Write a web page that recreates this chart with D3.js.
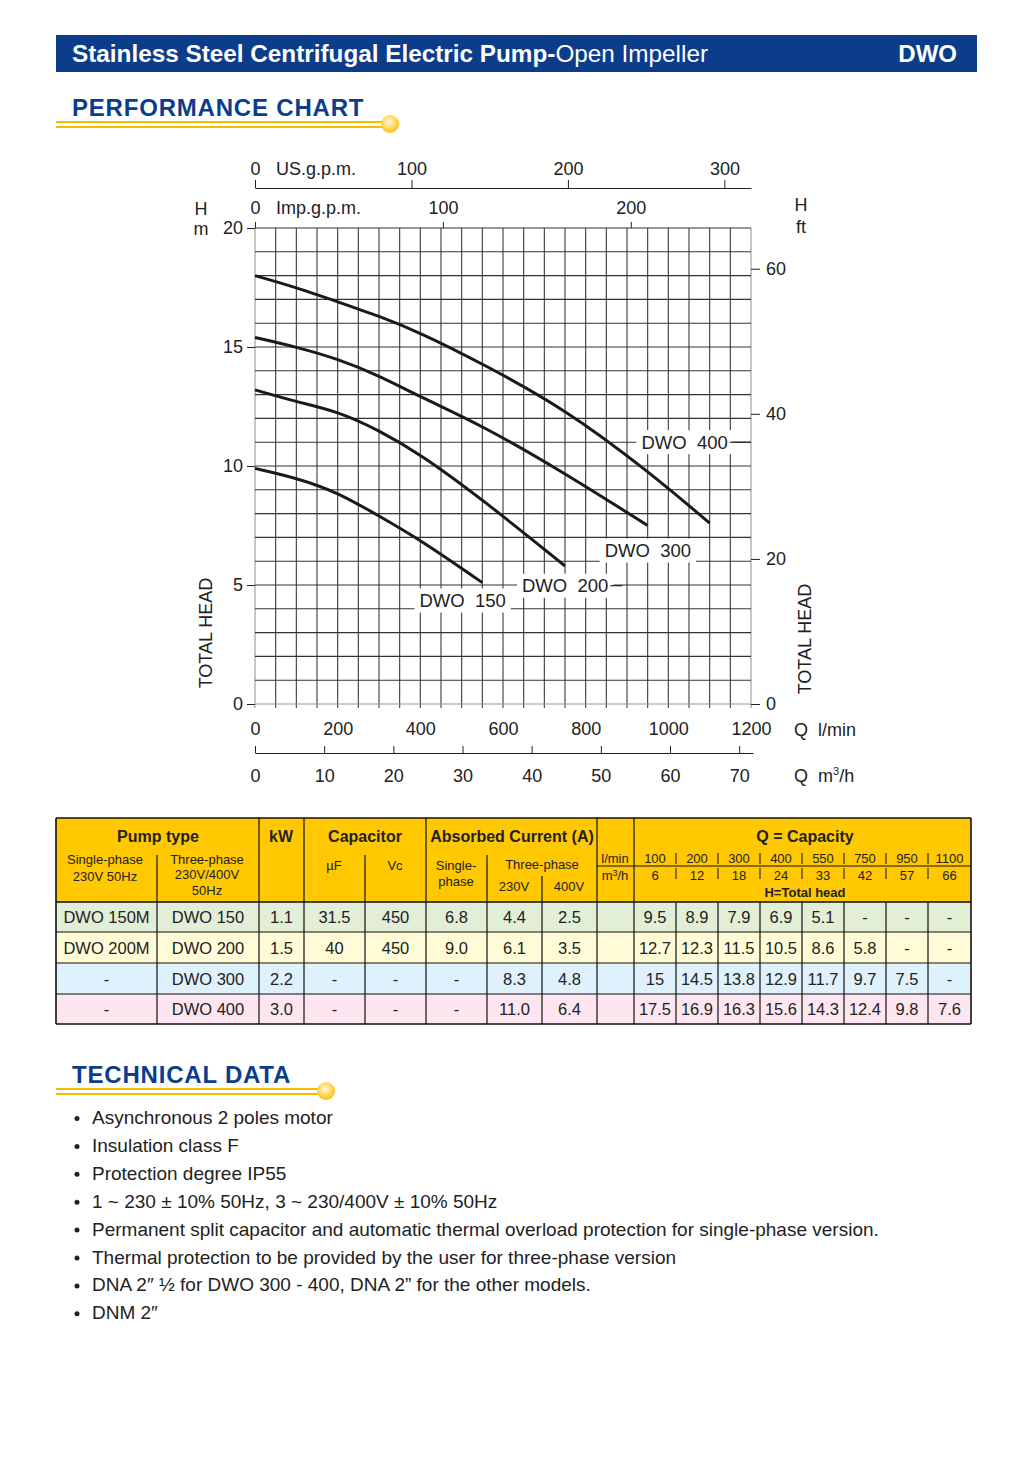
<!DOCTYPE html>
<html>
<head>
<meta charset="utf-8">
<script src="https://cdn.jsdelivr.net/npm/d3@7"></script>
<style>
  body { margin: 0; background: #fff; }
  svg { display: block; font-family: "Liberation Sans", Arial, sans-serif; }
</style>
</head>
<body>
<svg id="page" width="1036" height="1462"></svg>
<script>
// ---- data read from the sheet ----
var models      = ["DWO 150", "DWO 200", "DWO 300", "DWO 400"];
var singleTypes = ["DWO 150M", "DWO 200M", "-", "-"];
var kW          = ["1.1", "1.5", "2.2", "3.0"];
var capUF       = ["31.5", "40", "-", "-"];
var capVc       = ["450", "450", "-", "-"];
var ampSingle   = ["6.8", "9.0", "-", "-"];
var amp230      = ["4.4", "6.1", "8.3", "11.0"];
var amp400      = ["2.5", "3.5", "4.8", "6.4"];

var capLmin = [100, 200, 300, 400, 550, 750, 950, 1100];
var capM3h  = [6, 12, 18, 24, 33, 42, 57, 66];
var heads = [
  [9.5, 8.9, 7.9, 6.9, 5.1, null, null, null],
  [12.7, 12.3, 11.5, 10.5, 8.6, 5.8, null, null],
  [15, 14.5, 13.8, 12.9, 11.7, 9.7, 7.5, null],
  [17.5, 16.9, 16.3, 15.6, 14.3, 12.4, 9.8, 7.6]
];
var shutoffHead = [9.9, 13.2, 15.4, 18.0];   // head at Q = 0

var ticksLmin = [0, 200, 400, 600, 800, 1000, 1200];
var ticksM3h  = [0, 10, 20, 30, 40, 50, 60, 70];
var ticksUs   = [0, 100, 200, 300];
var ticksImp  = [0, 100, 200];
var ticksM    = [0, 5, 10, 15, 20];
var ticksFt   = [0, 20, 40, 60];

var techData = [
  "Asynchronous 2 poles motor",
  "Insulation class F",
  "Protection degree IP55",
  "1 ~ 230 \u00b1 10% 50Hz, 3 ~ 230/400V \u00b1 10% 50Hz",
  "Permanent split capacitor and automatic thermal overload protection for single-phase version.",
  "Thermal protection to be provided by the user for three-phase version",
  "DNA 2\u2033 \u00bd for DWO 300 - 400, DNA 2\u201d for the other models.",
  "DNM 2\u2033"
];

var NAVY = "#0b3d8b", YELLOW = "#ffc800", INK = "#222";

var svg = d3.select("#page");

// ---- header bar ----
svg.append("rect").attr("x", 56).attr("y", 35).attr("width", 921).attr("height", 37).attr("fill", NAVY);
var title = svg.append("text").attr("x", 72).attr("y", 62).attr("fill", "#fff").style("font-size", "24.3px");
title.append("tspan").attr("font-weight", "bold").text("Stainless Steel Centrifugal Electric Pump-");
title.append("tspan").text("Open Impeller");
svg.append("text").attr("x", 957).attr("y", 62).attr("text-anchor", "end").attr("fill", "#fff")
  .attr("font-weight", "bold").style("font-size", "24px").text("DWO");

// gradient for the little ball at the end of section rules
var grad = svg.append("defs").append("radialGradient").attr("id", "ball").attr("cx", "45%").attr("cy", "40%").attr("r", "60%");
grad.append("stop").attr("offset", "0%").attr("stop-color", "#fffbe8");
grad.append("stop").attr("offset", "100%").attr("stop-color", "#ffbf00");

function sectionTitle(label, y, lineEnd) {
  svg.append("text").attr("x", 72).attr("y", y).attr("fill", NAVY).attr("font-weight", "bold")
    .style("font-size", "24px").style("letter-spacing", "0.8px").text(label);
  [y + 6, y + 11].forEach(function(ly) {
    svg.append("line").attr("x1", 56).attr("x2", lineEnd).attr("y1", ly).attr("y2", ly)
      .attr("stroke", "#f5bd00").attr("stroke-width", 2.2);
  });
  svg.append("circle").attr("cx", lineEnd + 5).attr("cy", y + 8).attr("r", 9).attr("fill", "url(#ball)");
}
sectionTitle("PERFORMANCE CHART", 116, 385);

// ---- chart ----
var x    = d3.scaleLinear().domain([0, 1200]).range([255, 751]);
var y    = d3.scaleLinear().domain([0, 20]).range([704, 228]);
var yFt  = d3.scaleLinear().domain([0, 20 * 3.28084]).range([704, 228]);
var xImp = d3.scaleLinear().domain([0, 1200 / 4.54609]).range([255, 751]);
var xUs  = d3.scaleLinear().domain([0, 1200 / 3.78541]).range([255, 751]);
var xM3  = d3.scaleLinear().domain([0, 72]).range([255, 753]);

var FS = "18px";
var chart = svg.append("g").style("font-size", FS);

// grid
chart.append("g").selectAll("line").data(d3.range(0, 1201, 50)).join("line")
  .attr("x1", x).attr("x2", x).attr("y1", y(20)).attr("y2", y(0) + 4)
  .attr("stroke", function(d) { return d === 0 || d === 1200 ? "#999" : "#3a3a3a"; }).attr("stroke-width", 1.1);
chart.append("g").selectAll("line").data(d3.range(0, 21, 1)).join("line")
  .attr("x1", x(0)).attr("x2", x(1200)).attr("y1", y).attr("y2", y)
  .attr("stroke", function(d) { return d === 0 ? "#999" : "#333"; }).attr("stroke-width", 1.1);

function styleAxis(g) {
  g.selectAll("text").attr("fill", INK).style("font-size", FS).style("font-family", "Liberation Sans, Arial, sans-serif");
  g.selectAll("line").attr("stroke", INK);
  g.select(".domain").attr("stroke", INK);
}
var fmt = d3.format("d");

// left (m)
chart.append("g").attr("transform", "translate(" + x(0) + ",0)")
  .call(d3.axisLeft(y).tickValues(ticksM).tickFormat(fmt).tickSize(8).tickPadding(4))
  .call(styleAxis).call(function(g) { g.select(".domain").remove(); });
// right (ft)
chart.append("g").attr("transform", "translate(" + x(1200) + ",0)")
  .call(d3.axisRight(yFt).tickValues(ticksFt).tickFormat(fmt).tickSize(9).tickPadding(6))
  .call(styleAxis).call(function(g) { g.select(".domain").remove(); });
// bottom l/min
chart.append("g").attr("transform", "translate(0," + y(0) + ")")
  .call(d3.axisBottom(x).tickValues(ticksLmin).tickFormat(fmt).tickSize(0).tickPadding(18))
  .call(styleAxis).call(function(g) { g.select(".domain").remove(); });
// m3/h
chart.append("g").attr("transform", "translate(0,753)")
  .call(d3.axisBottom(xM3).tickValues(ticksM3h).tickFormat(fmt).tickSizeInner(-7).tickSizeOuter(0).tickPadding(16))
  .call(styleAxis);
// Imp gpm
chart.append("g").attr("transform", "translate(0," + y(20) + ")")
  .call(d3.axisTop(xImp).tickValues(ticksImp).tickFormat(fmt).tickSize(6).tickPadding(8))
  .call(styleAxis).call(function(g) { g.select(".domain").remove(); });
// US gpm
chart.append("g").attr("transform", "translate(0,188)")
  .call(d3.axisTop(xUs).tickValues(ticksUs).tickFormat(fmt).tickSizeInner(8).tickSizeOuter(0).tickPadding(5))
  .call(styleAxis);

// unit labels
function lbl(tx, ty, s, anchor) {
  return chart.append("text").attr("x", tx).attr("y", ty).attr("fill", INK)
    .attr("text-anchor", anchor || "start").text(s);
}
lbl(276, 175, "US.g.p.m.");
lbl(276, 214, "Imp.g.p.m.");
lbl(201, 215, "H", "middle");
lbl(201, 235, "m", "middle");
lbl(801, 211, "H", "middle");
lbl(801, 233, "ft", "middle");
var ql = lbl(794, 736, "Q");
ql.append("tspan").attr("x", 818).text("l/min");
var m3 = lbl(794, 782, "Q");
m3.append("tspan").attr("x", 818).text("m");
m3.append("tspan").attr("dy", -7).style("font-size", "11px").text("3");
m3.append("tspan").attr("dy", 7).text("/h");
chart.append("text").attr("transform", "translate(212,633) rotate(-90)").attr("text-anchor", "middle")
  .attr("fill", INK).text("TOTAL HEAD");
chart.append("text").attr("transform", "translate(811,639) rotate(-90)").attr("text-anchor", "middle")
  .attr("fill", INK).text("TOTAL HEAD");

// curves (smoothed through the duty points)
var line = d3.line().x(function(d) { return x(d[0]); }).y(function(d) { return y(d[1]); })
  .curve(d3.curveBasis);
models.forEach(function(m, i) {
  var pts = [[0, shutoffHead[i]]];
  heads[i].forEach(function(h, j) { if (h !== null) pts.push([capLmin[j], h]); });
  chart.append("path").datum(pts).attr("d", line).attr("fill", "none")
    .attr("stroke", "#1a1a1a").attr("stroke-width", 3).attr("stroke-linecap", "butt");
});

// curve labels (white box over grid), anchored in data units
var curveTags = [
  { q: 398, h: 4.35, lead: 0 },
  { q: 646, h: 4.97, lead: 12 },
  { q: 846, h: 6.45, lead: 0 },
  { q: 935, h: 11.0, lead: 21 }
];
curveTags.forEach(function(t, i) {
  var tx = x(t.q), ty = y(t.h);
  var g = chart.append("g");
  var txt = g.append("text").attr("x", tx).attr("y", ty + 6.5).attr("fill", INK)
    .style("font-size", "18.5px").attr("xml:space", "preserve").text("DWO  " + models[i].split(" ")[1]);
  var w = txt.node().getComputedTextLength();
  g.insert("rect", "text").attr("x", tx - 5).attr("y", ty - 12).attr("width", w + 10).attr("height", 24).attr("fill", "#fff");
  if (t.lead) {
    g.append("line").attr("x1", tx + w + 2).attr("x2", tx + w + 2 + t.lead).attr("y1", ty).attr("y2", ty)
      .attr("stroke", INK).attr("stroke-width", 1.2);
  }
});

// ---- table ----
var colX = [56, 157, 259, 304, 365, 426, 487, 542, 597, 634, 676, 718, 760, 802, 844, 886, 928, 971];
var rowY = [902, 932, 963, 994, 1024];
var rowFill = ["#e3eed6", "#fffbd6", "#dff1fc", "#fde6ef"];
var tbl = svg.append("g");

tbl.append("rect").attr("x", 56).attr("y", 818).attr("width", 915).attr("height", 84).attr("fill", YELLOW);
rowFill.forEach(function(c, i) {
  tbl.append("rect").attr("x", 56).attr("y", rowY[i]).attr("width", 915).attr("height", rowY[i + 1] - rowY[i]).attr("fill", c);
});

function hl(x1, x2, yy, w) {
  tbl.append("line").attr("x1", x1).attr("x2", x2).attr("y1", yy).attr("y2", yy).attr("stroke", "#111").attr("stroke-width", w || 1.2);
}
function vl(xx, y1, y2, w) {
  tbl.append("line").attr("x1", xx).attr("x2", xx).attr("y1", y1).attr("y2", y2).attr("stroke", "#111").attr("stroke-width", w || 1.2);
}
hl(56, 971, 818, 1.6);
rowY.forEach(function(r, i) { hl(56, 971, r, i === 0 || i === 4 ? 1.6 : 1.2); });
hl(597, 971, 866);
vl(56, 818, 1024, 1.6); vl(971, 818, 1024, 1.6);
[259, 304, 426, 597, 634].forEach(function(c) { vl(c, 818, 1024); });
vl(157, 855, 1024); vl(365, 855, 1024); vl(487, 855, 1024); vl(542, 876, 1024);
[676, 718, 760, 802, 844, 886, 928].forEach(function(c) {
  vl(c, 853, 864, 1); vl(c, 868, 879, 1); vl(c, 902, 1024);
});

function tt(tx, ty, s, size, bold) {
  return tbl.append("text").attr("x", tx).attr("y", ty).attr("text-anchor", "middle").attr("fill", INK)
    .style("font-size", size + "px").attr("font-weight", bold ? "bold" : "normal").text(s);
}
tt(158, 842, "Pump type", 16, true);
tt(281, 842, "kW", 16, true);
tt(365, 842, "Capacitor", 16, true);
tt(512, 842, "Absorbed Current (A)", 16, true);
tt(805, 842, "Q = Capacity", 16, true);
tt(105, 864, "Single-phase", 13); tt(105, 881, "230V 50Hz", 13);
tt(207, 864, "Three-phase", 13); tt(207, 879, "230V/400V", 13); tt(207, 895, "50Hz", 13);
tt(334, 870, "\u00b5F", 13); tt(395, 870, "Vc", 13);
tt(456, 870, "Single-", 13); tt(456, 886, "phase", 13);
tt(542, 869, "Three-phase", 13);
tt(514, 891, "230V", 13); tt(569, 891, "400V", 13);
tt(615, 863, "l/min", 13);
var m3h = tt(615, 880, "m", 13);
m3h.append("tspan").attr("dy", -4).style("font-size", "9px").text("3");
m3h.append("tspan").attr("dy", 4).text("/h");
capLmin.forEach(function(q, j) { tt((colX[9 + j] + colX[10 + j]) / 2, 863, q, 13); });
capM3h.forEach(function(q, j) { tt((colX[9 + j] + colX[10 + j]) / 2, 880, q, 13); });
tt(805, 897, "H=Total head", 13, true);

models.forEach(function(m, i) {
  var cells = [singleTypes[i], m, kW[i], capUF[i], capVc[i], ampSingle[i], amp230[i], amp400[i], ""]
    .concat(heads[i].map(function(h) { return h === null ? "-" : String(h); }));
  var cy = (rowY[i] + rowY[i + 1]) / 2 + 6;
  cells.forEach(function(s, c) {
    tt((colX[c] + colX[c + 1]) / 2, cy, s, 16.5);
  });
});

// ---- technical data ----
sectionTitle("TECHNICAL DATA", 1083, 321);
techData.forEach(function(s, i) {
  var ty = 1124 + i * 27.9;
  svg.append("circle").attr("cx", 77).attr("cy", ty - 5.5).attr("r", 2.5).attr("fill", INK);
  svg.append("text").attr("x", 92).attr("y", ty).attr("fill", INK).style("font-size", "19px").text(s);
});
</script>
</body>
</html>
